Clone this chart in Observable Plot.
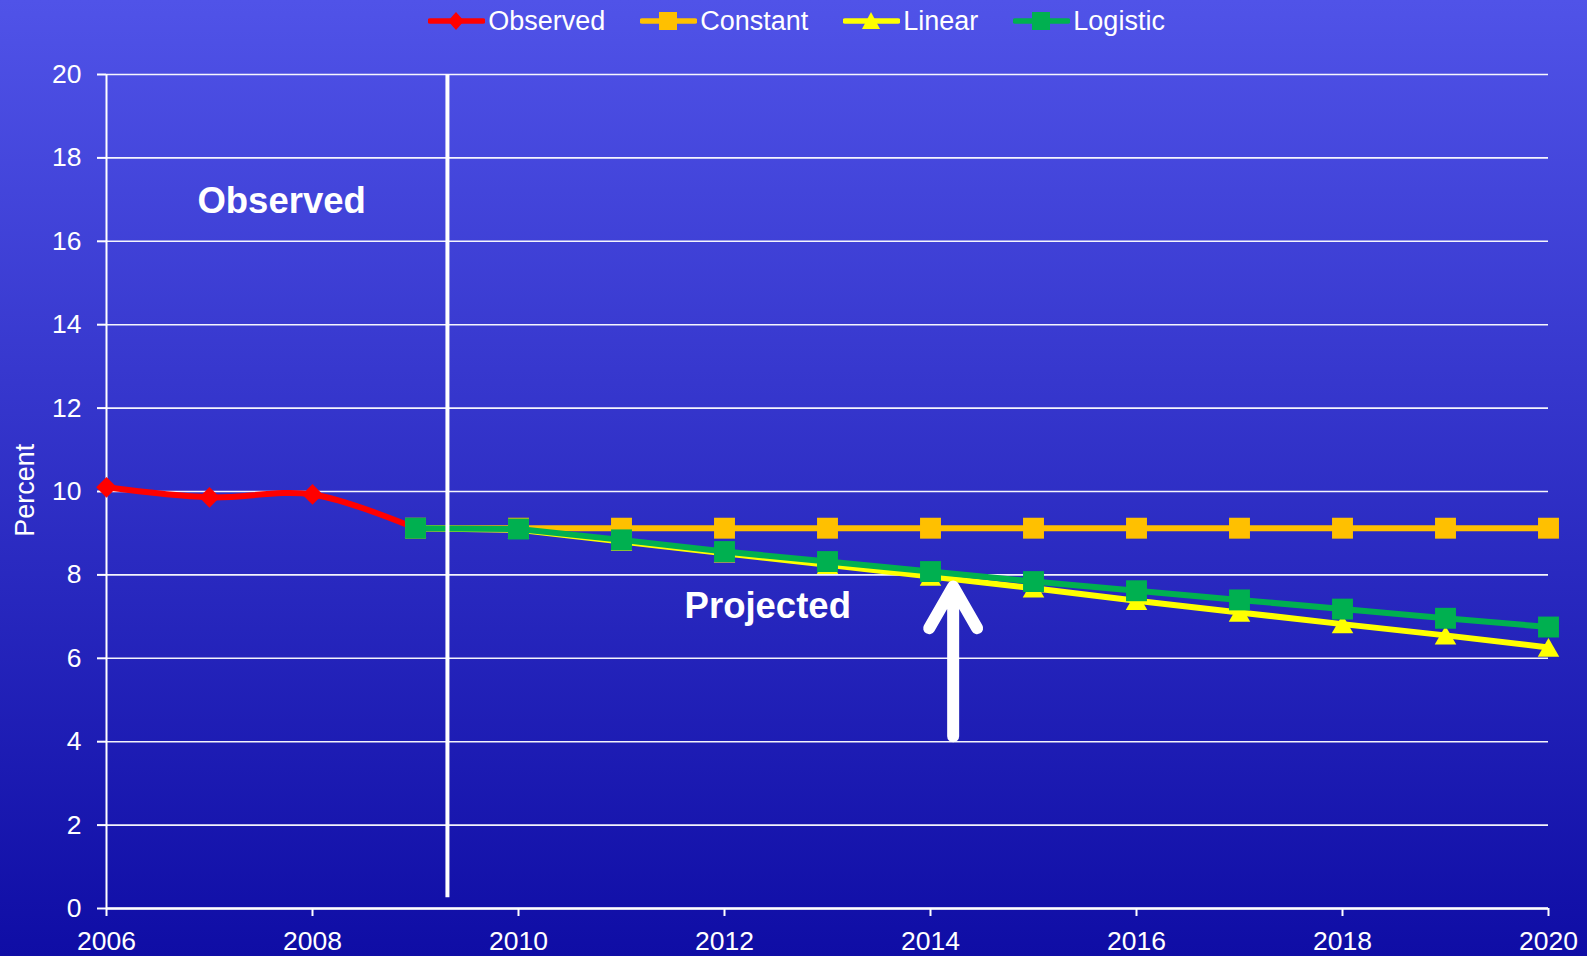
<!DOCTYPE html>
<html><head><meta charset="utf-8">
<script src="https://cdn.jsdelivr.net/npm/d3@7"></script>
<script src="https://cdn.jsdelivr.net/npm/@observablehq/plot@0.6"></script>
<style>
html,body{margin:0;padding:0;width:1587px;height:956px;overflow:hidden;
  background:linear-gradient(#5053E8,#0F0DA5);font-family:"Liberation Sans",Arial,sans-serif;color:#fff}
#legend{height:42px;display:flex;justify-content:center;align-items:center;gap:35px;font-size:27px;padding-left:6px;box-sizing:border-box}
.item{display:flex;align-items:center}
.item svg{margin-right:3px;display:block}
#chart svg{display:block}
</style></head><body>
<div id="legend"></div>
<div id="chart"></div>
<script>
// ---- data ----
const observedYears = [2006, 2007, 2008, 2009];
const observedValues = [10.1, 9.86, 9.93, 9.12];
const projYears = [2009, 2010, 2011, 2012, 2013, 2014, 2015, 2016, 2017, 2018, 2019, 2020];
const constantValues = [9.12, 9.12, 9.12, 9.12, 9.12, 9.12, 9.12, 9.12, 9.12, 9.12, 9.12, 9.12];
const linearValues = [9.12, 9.08, 8.80, 8.52, 8.24, 7.96, 7.68, 7.38, 7.10, 6.82, 6.55, 6.26];
const logisticValues = [9.12, 9.10, 8.84, 8.56, 8.32, 8.08, 7.84, 7.62, 7.40, 7.18, 6.96, 6.75];
const seriesNames = ["Observed", "Constant", "Linear", "Logistic"];
const seriesColors = ["#FF0000", "#FFC000", "#FFFF00", "#00B050"];
const seriesSymbols = ["diamond2", "square", "triangle", "square"];
const xTicks = [2006, 2008, 2010, 2012, 2014, 2016, 2018, 2020];
const yTicks = [0, 2, 4, 6, 8, 10, 12, 14, 16, 18, 20];
const yLabel = "Percent";
const dividerYear = 2009.31;
const annotations = [
  {text: "Observed", year: 2007.70, value: 16.95},
  {text: "Projected", year: 2012.42, value: 7.24}
];
const arrowYear = 2014.22, arrowFrom = 4.13, arrowTo = 7.72;

// ---- legend ----
const legend = document.getElementById("legend");
seriesNames.forEach((name, i) => {
  const c = seriesColors[i];
  let marker;
  if (i === 0) marker = `<path d="M28,1 L36,10 L28,19 L20,10 Z" fill="${c}"/>`;
  else if (i === 2) marker = `<path d="M28,1 L37,18 L19,18 Z" fill="${c}"/>`;
  else marker = `<rect x="19" y="1" width="18" height="18" fill="${c}"/>`;
  const item = document.createElement("div");
  item.className = "item";
  item.innerHTML = `<svg width="57" height="20"><line x1="2" y1="10" x2="55" y2="10" stroke="${c}" stroke-width="5.5" stroke-linecap="round"/>${marker}</svg><span>${name}</span>`;
  legend.appendChild(item);
});

// ---- chart ----
const toRows = (xs, ys) => xs.map((x, i) => ({year: x, value: ys[i]}));
const observed = toRows(observedYears, observedValues);
const constant = toRows(projYears, constantValues);
const linear = toRows(projYears, linearValues);
const logistic = toRows(projYears, logisticValues);

const seriesMarks = (rows, i, curve, r, dy) => [
  Plot.line(rows, {x: "year", y: "value", stroke: seriesColors[i], strokeWidth: 6, curve}),
  Plot.dot(rows, {x: "year", y: "value", fill: seriesColors[i], symbol: seriesSymbols[i], r, dy})
];

const chart = Plot.plot({
  width: 1587,
  height: 914,
  marginLeft: 106,
  marginRight: 39,
  marginTop: 32,
  marginBottom: 48,
  style: {background: "transparent", color: "white", fontFamily: "'Liberation Sans', Arial, sans-serif", overflow: "visible"},
  x: {domain: [2006, 2020]},
  y: {domain: [0, 20]},
  marks: [
    Plot.gridY(yTicks, {stroke: "white", strokeOpacity: 0.95, strokeWidth: 1.6}),
    Plot.ruleX([2006], {stroke: "white", strokeWidth: 2}),
    Plot.ruleY([0], {stroke: "white", strokeWidth: 2.5}),
    Plot.axisY(yTicks, {tickSize: 9, tickPadding: 16, fontSize: 26.5, label: null, strokeWidth: 2}),
    Plot.axisX(xTicks, {tickSize: 8, tickPadding: 15, fontSize: 26.5, label: null, tickFormat: d => String(d), strokeWidth: 2}),
    Plot.text([yLabel], {x: 2005.214, y: 10.03, text: d => d, rotate: -90, fontSize: 27, fill: "white"}),
    ...seriesMarks(observed, 0, "catmull-rom", 9.3, 0),
    ...seriesMarks(constant, 1, "linear", 11.8, 0),
    ...seriesMarks(linear, 2, "linear", 8, 3),
    ...seriesMarks(logistic, 3, "linear", 11.8, 0),
    Plot.ruleX([dividerYear], {y1: 0.26, y2: 20, stroke: "white", strokeWidth: 4}),
    Plot.text(annotations, {x: "year", y: "value", text: "text", fontSize: 36.5, fontWeight: "bold", fill: "white"}),
    Plot.arrow([{x: arrowYear, y1: arrowFrom, y2: arrowTo}], {
      x1: "x", x2: "x", y1: "y1", y2: "y2",
      stroke: "white", strokeWidth: 12, headAngle: 60, headLength: 6, strokeLinecap: "round"
    })
  ]
});
document.getElementById("chart").appendChild(chart);
</script>
</body></html>
